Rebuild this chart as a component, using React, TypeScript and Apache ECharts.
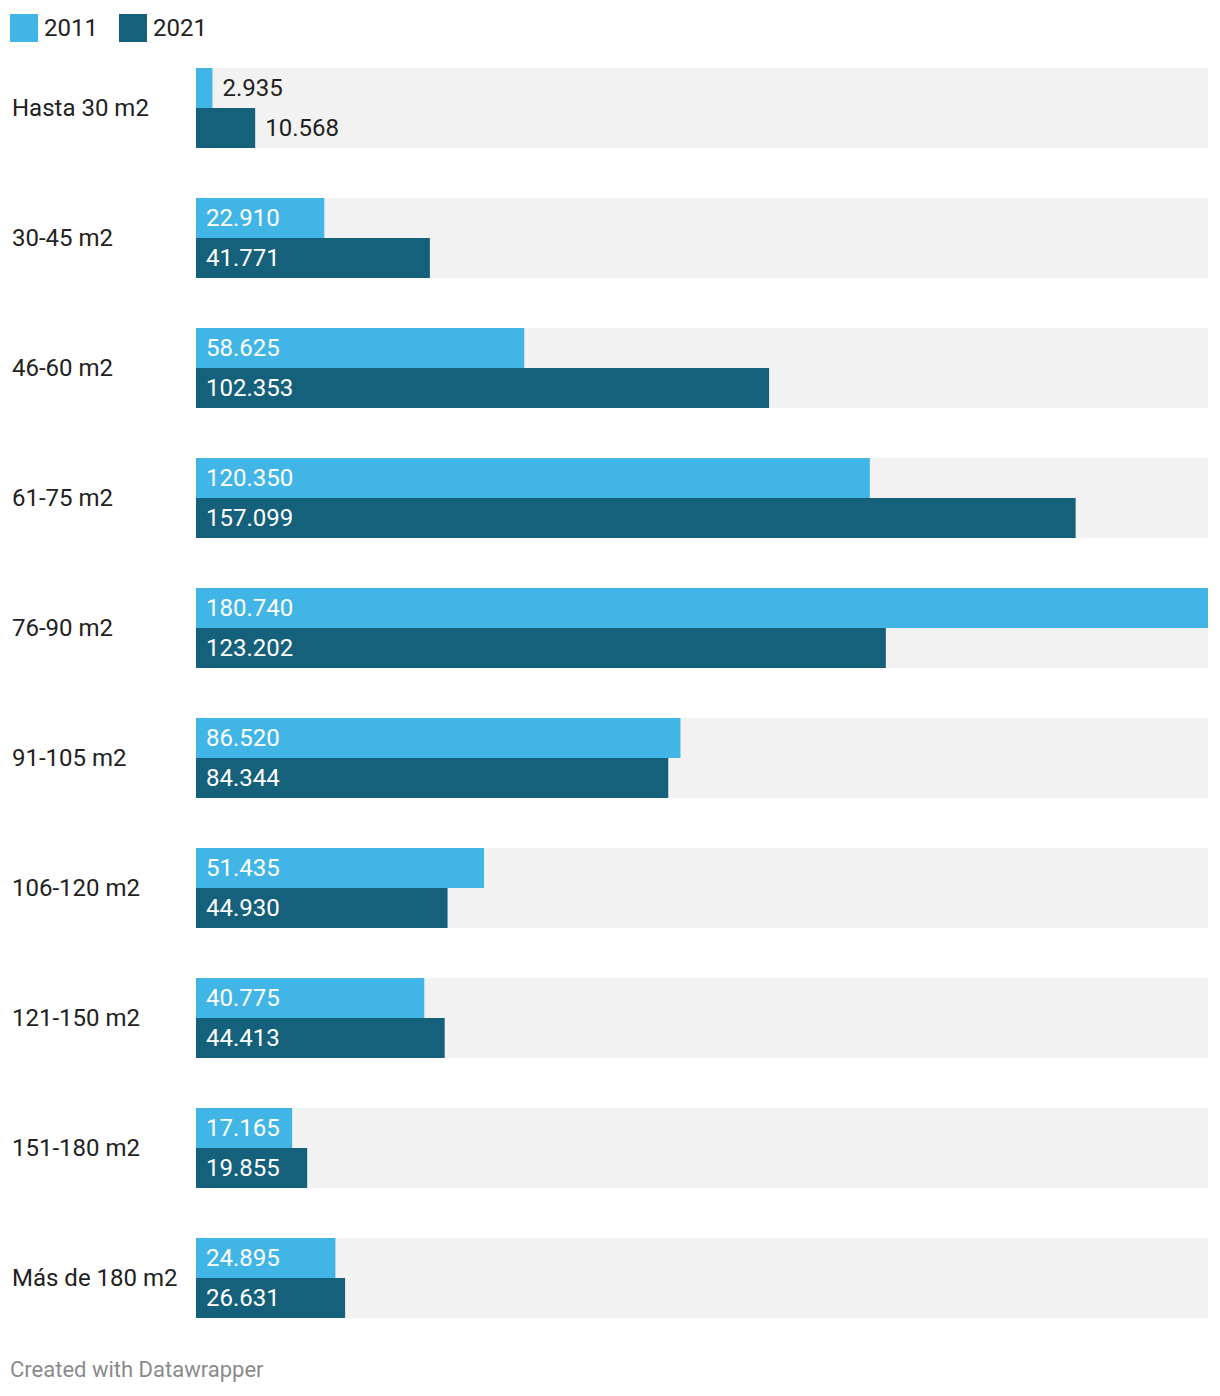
import React, { useEffect, useRef } from "react";
import * as echarts from "echarts";

const categories = [
  "Hasta 30 m2",
  "30-45 m2",
  "46-60 m2",
  "61-75 m2",
  "76-90 m2",
  "91-105 m2",
  "106-120 m2",
  "121-150 m2",
  "151-180 m2",
  "Más de 180 m2",
];
const values2011 = [2935, 22910, 58625, 120350, 180740, 86520, 51435, 40775, 17165, 24895];
const values2021 = [10568, 41771, 102353, 157099, 123202, 84344, 44930, 44413, 19855, 26631];
const seriesNames = ["2011", "2021"];
const colors = ["#41b6e6", "#15607a"];
const FONT = "Roboto";

const fmt = (v: number) => String(v).replace(/\B(?=(\d{3})+(?!\d))/g, ".");

export default function App() {
  const ref = useRef<HTMLDivElement>(null);
  useEffect(() => {
    if (!ref.current) return;
    const chart = echarts.init(ref.current, null, { renderer: "svg" });
    const maxV = Math.max(...values2011, ...values2021);
    const threshold = maxV * 0.07;
    const mkData = (vals: number[]) =>
      vals.map((v) =>
        v < threshold
          ? {
              value: v,
              label: { position: "right", distance: 10, color: "#222" },
            }
          : { value: v }
      );
    const mkSeries = (i: number, vals: number[]) => ({
      type: "bar",
      name: seriesNames[i],
      data: mkData(vals),
      barWidth: 40,
      barGap: "0%",
      itemStyle: { color: colors[i] },
      showBackground: true,
      backgroundStyle: { color: "#f2f2f2" },
      label: {
        show: true,
        position: "insideLeft",
        distance: 10,
        color: "#ffffff",
        fontFamily: FONT,
        fontSize: 24,
        formatter: (p: any) => fmt(p.value),
      },
    });
    chart.setOption({
      animation: false,
      textStyle: { fontFamily: FONT },
      legend: {
        left: 10,
        top: 14,
        padding: 0,
        itemWidth: 28,
        itemHeight: 28,
        itemGap: 21,
        icon: "rect",
        selectedMode: false,
        textStyle: { fontSize: 24, color: "#222", fontFamily: FONT, padding: [0, 0, 0, 1] },
        data: seriesNames,
      },
      grid: { left: 196, right: 12, top: 43, bottom: 53 },
      xAxis: {
        type: "value",
        min: 0,
        max: maxV,
        show: false,
      },
      yAxis: {
        type: "category",
        data: categories,
        inverse: true,
        axisLine: { show: false },
        axisTick: { show: false },
        axisLabel: {
          align: "left",
          margin: 184,
          fontSize: 24,
          color: "#222",
          fontFamily: FONT,
        },
      },
      series: [mkSeries(0, values2011), mkSeries(1, values2021)],
      graphic: [
        {
          type: "text",
          left: 10,
          top: 1358,
          style: {
            text: "Created with Datawrapper",
            fill: "#8a8a8a",
            fontSize: 22,
            fontFamily: FONT,
          },
        },
      ],
    });
    return () => chart.dispose();
  }, []);
  return (
    <div
      ref={ref}
      style={{ position: "absolute", left: 0, top: 0, width: 1220, height: 1396 }}
    />
  );
}
